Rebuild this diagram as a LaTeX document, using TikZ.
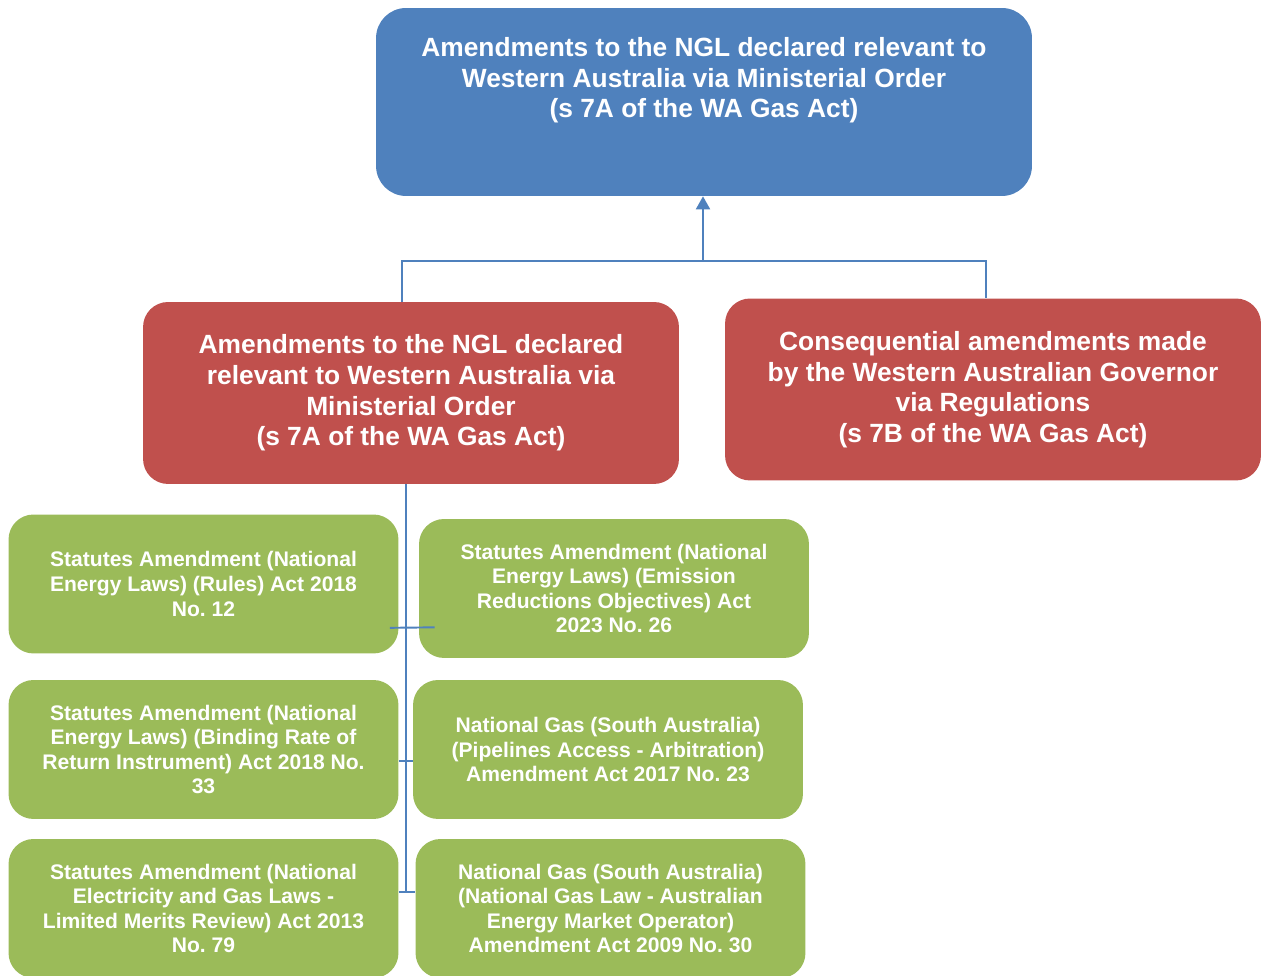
\documentclass[tikz,border=0pt]{standalone}
\usepackage{fontspec}
\setmainfont{Liberation Sans}
\frenchspacing
\usetikzlibrary{positioning,calc,arrows.meta}
\definecolor{nglblue}{HTML}{4F81BD}
\definecolor{nglred}{HTML}{C0504D}
\definecolor{nglgreen}{HTML}{9BBB59}
\tikzstyle{RECTANGLE_1} = [rectangle, rounded corners=0.6cm, minimum width=13.12cm, minimum height=3.76cm, fill=nglblue]
\tikzstyle{RECTANGLE_2} = [rectangle, rounded corners=0.5cm, minimum width=10.72cm, minimum height=3.64cm, fill=nglred, text=white, align=center, font=\fontsize{15}{17.4}\selectfont\bfseries]
\tikzstyle{RECTANGLE_3} = [rectangle, rounded corners=0.5cm, minimum width=7.8cm, minimum height=2.78cm, fill=nglgreen, text=white, align=center, font=\fontsize{12}{14}\selectfont\bfseries]
\tikzstyle{TEXT_1} = [text=white, align=center, font=\fontsize{15}{17.4}\selectfont\bfseries]
\tikzstyle{LINE} = [draw=nglblue, line width=1.1pt]
\tikzstyle{ARROW} = [draw=nglblue, line width=1.1pt, -{Triangle[width=0.28cm,length=0.26cm]}]
\begin{document}
\begin{tikzpicture}[x=0.02cm, y=0.02cm]
\useasboundingbox (0,0) rectangle (1264,976);
% Place nodes
\node [RECTANGLE_1] (wa_order) at (704,874) {};
\node [TEXT_1] (wa_order_text) at ([yshift=0.43cm]wa_order.center) {Amendments to the NGL declared relevant to\\Western Australia via Ministerial Order\\(s 7A of the WA Gas Act)};
\node [RECTANGLE_2] (ngl_order) at (411,583) {Amendments to the NGL declared\\relevant to Western Australia via\\Ministerial Order\\(s 7A of the WA Gas Act)};
\node [RECTANGLE_2] (gov_regs) at (993,586.5) {Consequential amendments made\\by the Western Australian Governor\\via Regulations\\(s 7B of the WA Gas Act)};
\node [RECTANGLE_3] (act_rules) at (203.5,392) {Statutes Amendment (National\\Energy Laws) (Rules) Act 2018\\No. 12};
\node [RECTANGLE_3] (act_emission) at (614,387.5) {Statutes Amendment (National\\Energy Laws) (Emission\\Reductions Objectives) Act\\2023 No. 26};
\node [RECTANGLE_3] (act_return) at (203.5,226.5) {Statutes Amendment (National\\Energy Laws) (Binding Rate of\\Return Instrument) Act 2018 No.\\33};
\node [RECTANGLE_3] (act_pipelines) at (608,226.5) {National Gas (South Australia)\\(Pipelines Access - Arbitration)\\Amendment Act 2017 No. 23};
\node [RECTANGLE_3] (act_merits) at (203.5,67.5) {Statutes Amendment (National\\Electricity and Gas Laws -\\Limited Merits Review) Act 2013\\No. 79};
\node [RECTANGLE_3] (act_aemo) at (610.5,67.5) {National Gas (South Australia)\\(National Gas Law - Australian\\Energy Market Operator)\\Amendment Act 2009 No. 30};
% LINES and ARROWS
\coordinate (bar) at (703,715);
\path [LINE] ([xshift=-0.18cm]ngl_order.north) |- (bar) -| ([xshift=-0.14cm]gov_regs.north);
\path [ARROW] (bar) -- (bar |- wa_order.south);
\coordinate (spine) at ([xshift=-0.1cm]ngl_order.south);
\path [LINE] (spine) -- ++(0,-408);
\path [LINE] ([xshift=-0.18cm,yshift=0.52cm]act_rules.south east) -- ([xshift=0.32cm,yshift=0.62cm]act_emission.south west);
\path [LINE] ([yshift=-0.23cm]act_return.east) -- ([yshift=-0.23cm]act_pipelines.west);
\path [LINE] ([yshift=0.33cm]act_merits.east) -- ([yshift=0.33cm]act_aemo.west);
\end{tikzpicture}
\end{document}
